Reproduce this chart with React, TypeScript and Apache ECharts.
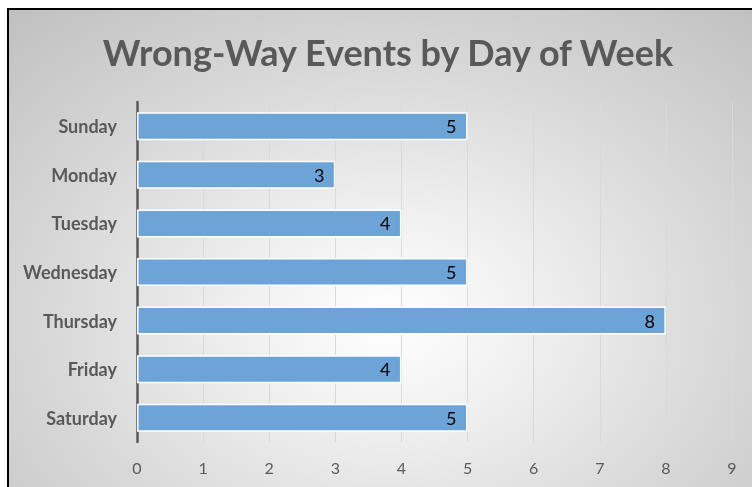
import React, { useEffect, useRef } from "react";
import * as echarts from "echarts";

const days = ["Sunday", "Monday", "Tuesday", "Wednesday", "Thursday", "Friday", "Saturday"];
const events = [5, 3, 4, 5, 8, 4, 5];
const chartTitle = "Wrong-Way Events by Day of Week";
const xMin = 0;
const xMax = 9;
const xInterval = 1;

export default function App() {
  const ref = useRef<HTMLDivElement>(null);
  useEffect(() => {
    document.body.style.overflow = "hidden";
    if (!ref.current) return;
    const chart = echarts.init(ref.current, undefined, { renderer: "svg" });
    const font = "Lato, 'Open Sans', sans-serif";
    chart.setOption({
      animation: false,
      backgroundColor: "transparent",
      title: {
        text: chartTitle,
        left: 383,
        textAlign: "center",
        top: 29,
        textStyle: { fontFamily: font, fontSize: 36, fontWeight: "bold", color: "#595959" },
      },
      grid: { left: 137, right: 20, top: 102, bottom: 45 },
      xAxis: {
        type: "value",
        min: xMin,
        max: xMax,
        interval: xInterval,
        axisLine: { show: false },
        axisTick: { show: false },
        splitLine: { show: true, lineStyle: { color: "#d9d9d9", width: 1 } },
        axisLabel: { color: "#595959", fontSize: 16, fontFamily: font, margin: 17 },
      },
      yAxis: {
        type: "category",
        data: days,
        inverse: true,
        axisLine: { show: true, lineStyle: { color: "#595959", width: 2.5 } },
        axisTick: { show: false },
        axisLabel: { color: "#595959", fontSize: 18, fontWeight: "bold", fontFamily: font, margin: 20 },
      },
      series: [
        {
          type: "bar",
          data: events,
          barWidth: 28,
          itemStyle: { color: "#6ca4d8", borderColor: "#ffffff", borderWidth: 1.5 },
          label: {
            show: true,
            position: "insideRight",
            distance: 11,
            color: "#000000",
            fontSize: 18,
            fontFamily: font,
          },
        },
      ],
    });
    return () => chart.dispose();
  }, []);
  return (
    <>
      <div
        style={{
          position: "fixed",
          left: 7,
          top: 8,
          width: 760,
          height: 500,
          boxSizing: "border-box",
          borderTop: "2px solid #000",
          borderLeft: "2px solid #000",
          background:
            "radial-gradient(ellipse 75% 85% at 50% 62%, #ffffff 0%, #f0f0f0 25%, #d8d8d8 60%, #bfbfbf 100%)",
        }}
      />
      <div ref={ref} style={{ position: "fixed", left: 0, top: 0, width: 752, height: 487 }} />
    </>
  );
}
